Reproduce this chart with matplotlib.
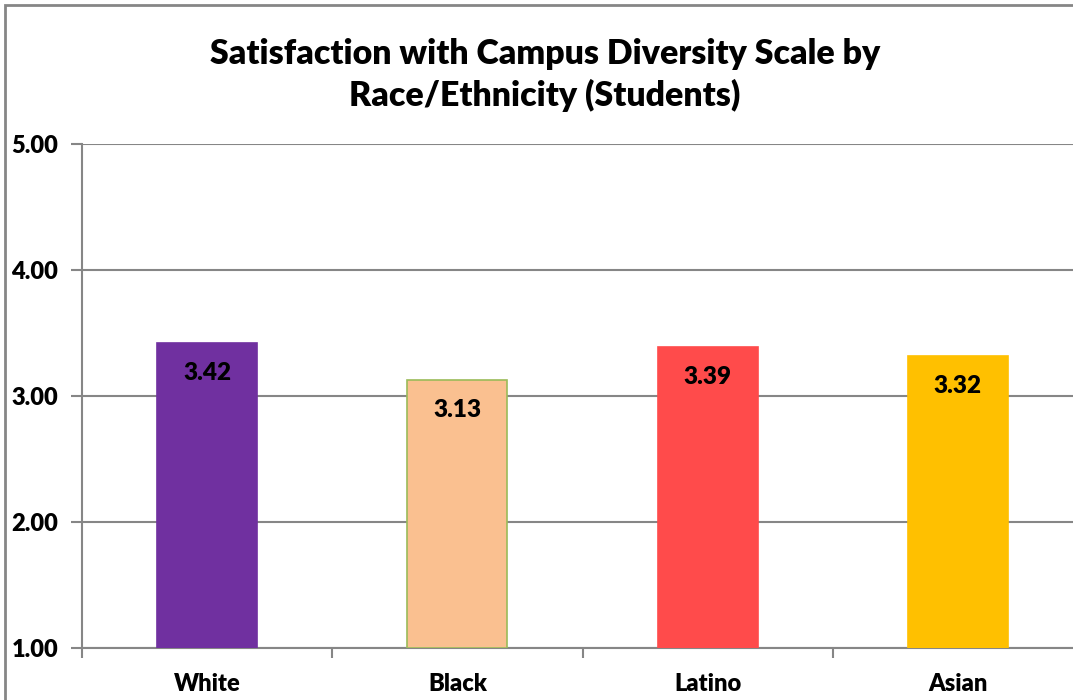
import matplotlib.pyplot as plt
from matplotlib.patches import Rectangle

groups = ["White", "Black", "Latino", "Asian"]
scores = [3.42, 3.13, 3.39, 3.32]
bar_colors = ["#7030A0", "#FAC090", "#FF4B4B", "#FFC000"]
edge_colors = ["#7030A0", "#9BBB59", "#FF4B4B", "#FFC000"]
yticks = [1, 2, 3, 4, 5]

plt.rcParams['font.family'] = ['Lato', 'DejaVu Sans']
W = "heavy"

fig = plt.figure(figsize=(10.73, 7), dpi=100)
# chart frame
fig.patches.append(Rectangle((5 / 1073, -0.1), 1.2, 1.1 - 5.5 / 700,
                             transform=fig.transFigure, fill=False,
                             edgecolor="#868686", linewidth=2))

ax = fig.add_axes([82 / 1073, 1 - 648 / 700, 1001 / 1073, 504 / 700])
x = list(range(len(groups)))
ax.bar(x, [s - 1 for s in scores], bottom=1, width=0.4, color=bar_colors,
       edgecolor=edge_colors, linewidth=1.2, zorder=3)

for xi, s in zip(x, scores):
    ax.annotate(f"{s:.2f}", (xi, s), xytext=(0, -30), textcoords="offset pixels",
                ha="center", va="center", fontsize=17.5, fontweight=W,
                color="black", zorder=4)

ax.set_xlim(-0.5, len(groups) - 0.5)
ax.set_ylim(1, 5)
ax.set_yticks(yticks)
ax.set_yticklabels([f"{v:.2f}" for v in yticks], fontsize=17, fontweight=W)
ax.set_xticks(x)
ax.set_xticklabels(groups, fontsize=17, fontweight=W)
ax.set_xticks([i - 0.5 for i in x], minor=True)
ax.tick_params(axis="x", which="major", length=0, pad=18)
ax.tick_params(axis="x", which="minor", length=7, width=1.5, color="#868686")
ax.tick_params(axis="y", length=8, width=1.5, color="#868686", pad=9)

ax.grid(axis="y", color="#868686", linewidth=1.5, zorder=0)
for side in ["top", "right"]:
    ax.spines[side].set_visible(False)
ax.spines["left"].set_color("#868686")
ax.spines["left"].set_linewidth(1.5)
ax.spines["bottom"].set_color("#868686")
ax.spines["bottom"].set_linewidth(1.5)

fig.text(545 / 1073, 1 - 75 / 700,
         "Satisfaction with Campus Diversity Scale by\nRace/Ethnicity (Students)",
         ha="center", va="center", fontsize=24.4, fontweight=W,
         linespacing=1.3)

fig.savefig("out.png", dpi=100)
